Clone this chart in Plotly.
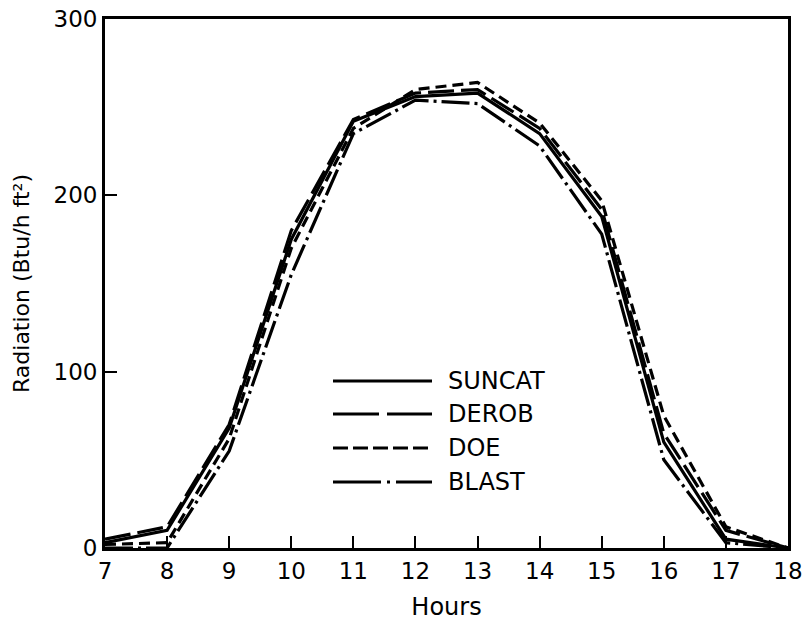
import plotly.graph_objects as go

hours = [7, 8, 9, 10, 11, 12, 13, 14, 15, 16, 17, 18]
suncat = [3, 10, 68, 175, 242, 256, 258, 235, 188, 60, 5, 0]
derob = [5, 12, 70, 180, 243, 258, 260, 238, 192, 65, 10, 0]
doe = [2, 3, 62, 170, 238, 260, 264, 241, 197, 75, 12, 0]
blast = [0, 0, 55, 155, 235, 254, 252, 228, 178, 50, 3, 0]

series_names = ["SUNCAT", "DEROB", "DOE", "BLAST"]
series_vals = [suncat, derob, doe, blast]
curve_dash = ["solid", "26px,7px", "11px,6px", "28px,5px,3px,5px"]
legend_dash = ["solid", "46px,8px", "15px,5px", "48px,6px,3px,6px"]

fig = go.Figure()
for name, vals, dash in zip(series_names, series_vals, curve_dash):
    fig.add_trace(go.Scatter(x=hours, y=vals, mode="lines", name=name,
                             line=dict(color="black", width=3.2, dash=dash),
                             showlegend=False))

font = "DejaVu Sans, Liberation Sans, Arial, sans-serif"
L, R, T, B = 105, 18, 19, 73
W, H = 806, 621
pw, ph = W - L - R, H - T - B

# custom legend (long line samples as in the reference)
leg_rows = [381, 414, 448, 482]
for name, dash, yy in zip(series_names, legend_dash, leg_rows):
    yp = 1 - (yy - T) / ph
    x0 = (333 - L) / pw
    x1 = (432 - L) / pw
    fig.add_shape(type="line", xref="paper", yref="paper", x0=x0, x1=x1, y0=yp, y1=yp,
                  line=dict(color="black", width=3.2, dash=dash))
    fig.add_annotation(xref="paper", yref="paper", x=(446 - L) / pw, y=yp, text=name,
                       showarrow=False, xanchor="left", yanchor="middle",
                       font=dict(family=font, size=24, color="black"))

fig.update_layout(
    width=W, height=H,
    margin=dict(l=L, r=R, t=T, b=B, autoexpand=False),
    paper_bgcolor="white", plot_bgcolor="white",
    font=dict(family=font, size=23, color="black"),
    showlegend=False,
)
fig.update_xaxes(range=[7, 18], tickvals=hours, ticks="inside", ticklen=12, tickwidth=2,
                 tickcolor="black", showline=True, linecolor="black", linewidth=2.8,
                 mirror=True, showgrid=False, zeroline=False, automargin=False,
                 title=dict(text="Hours", font=dict(size=24), standoff=16),
                 tickfont=dict(size=23))
fig.update_yaxes(range=[0, 300], tickvals=[0, 100, 200, 300], ticks="inside", ticklen=12,
                 tickwidth=2, tickcolor="black", showline=True, linecolor="black",
                 linewidth=2.8, mirror=True, showgrid=False, zeroline=False, automargin=False,
                 title=dict(text="Radiation (Btu/h ft²)", font=dict(size=22), standoff=18),
                 tickfont=dict(size=23))

fig.write_html("out.html")
